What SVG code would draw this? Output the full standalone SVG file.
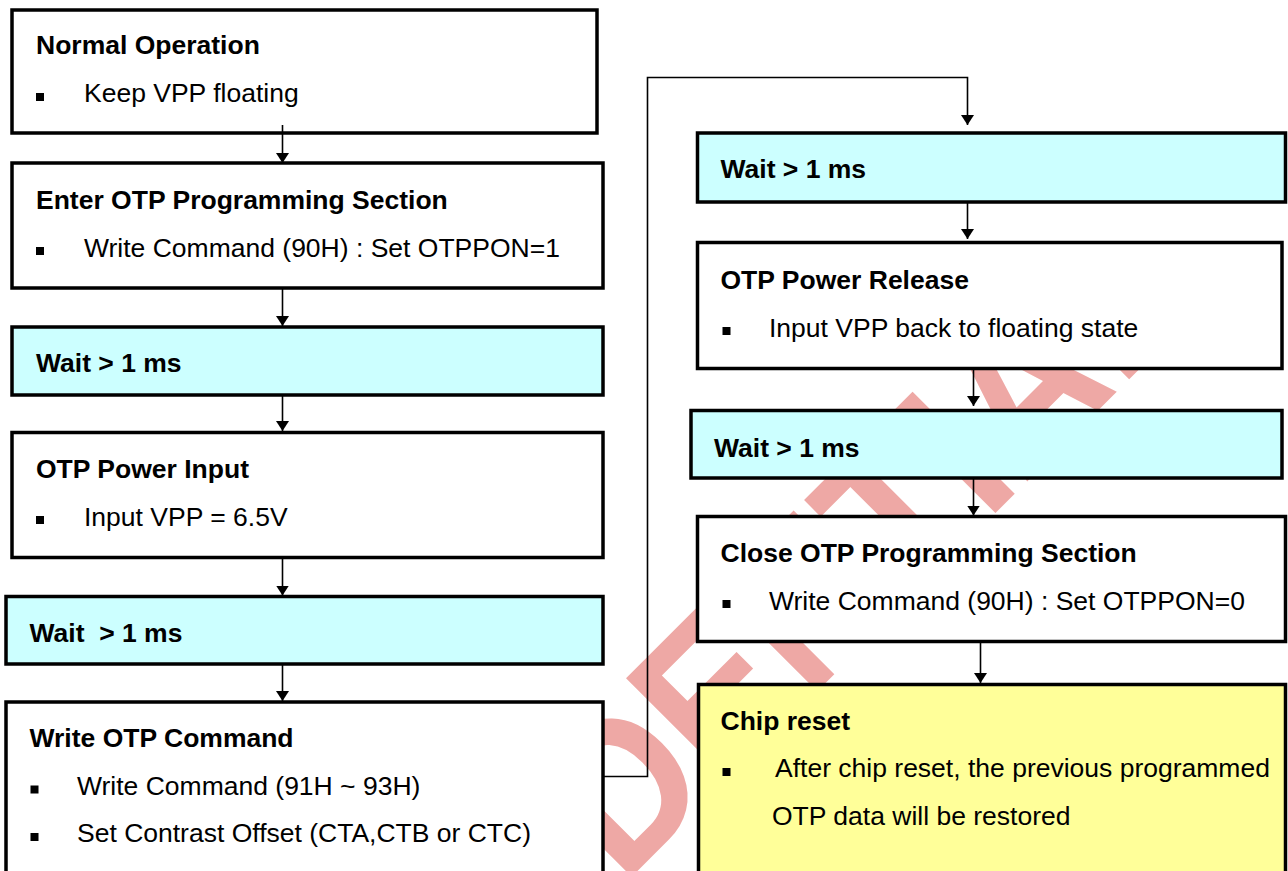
<svg xmlns="http://www.w3.org/2000/svg" width="1288" height="871" viewBox="0 0 1288 871">
<style>
.box{fill:#fff;stroke:#000;stroke-width:3.5}
.wait{fill:#ccffff;stroke:#000;stroke-width:3.5}
.note{fill:#ffff99;stroke:#000;stroke-width:3.5}
.t{font-family:"Liberation Sans",Arial,sans-serif;font-size:26.5px;font-weight:bold;fill:#000}
.b{font-family:"Liberation Sans",Arial,sans-serif;font-size:26.5px;fill:#000}
.con{fill:none;stroke:#000;stroke-width:1.6}
.wm{font-family:"Liberation Sans",Arial,sans-serif;font-size:210px;font-weight:bold;fill:#eea8a5}
</style>
<defs>
<marker id="ah" viewBox="0 0 10 13" refX="10" refY="6.5" markerWidth="10" markerHeight="13" markerUnits="userSpaceOnUse" orient="auto" preserveAspectRatio="none">
<path d="M0,0 L10,6.5 L0,13 z" fill="#000"/>
</marker>
</defs>
<rect width="1288" height="871" fill="#fff"/>
<g id="watermark">
<text class="wm" transform="translate(207,1301.5) rotate(-45) scale(0.9,1)">CONFIDENTIAL</text>
</g>
<g id="n1">
<rect class="box" x="12" y="10" width="585" height="123"/>
<text class="t" x="36" y="54">Normal Operation</text>
<rect x="36" y="93" width="8" height="8"/>
<text class="b" x="84" y="101.5">Keep VPP floating</text>
</g>
<g id="n2">
<rect class="box" x="12" y="163" width="591" height="125"/>
<text class="t" x="36" y="208.5">Enter OTP Programming Section</text>
<rect x="36" y="247" width="8" height="8"/>
<text class="b" x="84" y="257">Write Command (90H) : Set OTPPON=1</text>
</g>
<g id="n3">
<rect class="wait" x="12" y="327" width="591" height="68"/>
<text class="t" x="36" y="372">Wait &gt; 1 ms</text>
</g>
<g id="n4">
<rect class="box" x="12" y="432.5" width="591" height="125"/>
<text class="t" x="36" y="478">OTP Power Input</text>
<rect x="36" y="516" width="8" height="8"/>
<text class="b" x="84" y="526">Input VPP = 6.5V</text>
</g>
<g id="n5">
<rect class="wait" x="6" y="596.5" width="597" height="67.5"/>
<text class="t" x="29.5" y="641.5" xml:space="preserve">Wait  &gt; 1 ms</text>
</g>
<g id="n6">
<rect class="box" x="6" y="702" width="597" height="190"/>
<text class="t" x="29.5" y="747">Write OTP Command</text>
<rect x="30.5" y="785.5" width="8" height="8"/>
<text class="b" x="77" y="795">Write Command (91H ~ 93H)</text>
<rect x="30.5" y="833" width="8" height="8"/>
<text class="b" x="77" y="842">Set Contrast Offset (CTA,CTB or CTC)</text>
</g>
<g id="n7">
<rect class="wait" x="697.5" y="133" width="588" height="69"/>
<text class="t" x="720.5" y="178">Wait &gt; 1 ms</text>
</g>
<g id="n8">
<rect class="box" x="697.5" y="242.5" width="584.5" height="126"/>
<text class="t" x="720.5" y="288.5">OTP Power Release</text>
<rect x="722.5" y="327" width="8" height="8"/>
<text class="b" x="769" y="337">Input VPP back to floating state</text>
</g>
<g id="n9">
<rect class="wait" x="691" y="410.5" width="591" height="67.5"/>
<text class="t" x="714" y="457">Wait &gt; 1 ms</text>
</g>
<g id="n10">
<rect class="box" x="697.5" y="516.5" width="588" height="125"/>
<text class="t" x="720.5" y="562">Close OTP Programming Section</text>
<rect x="722.5" y="600" width="8" height="8"/>
<text class="b" x="769" y="610">Write Command (90H) : Set OTPPON=0</text>
</g>
<g id="n11">
<rect class="note" x="698.5" y="684.5" width="587" height="210"/>
<text class="t" x="720.5" y="729.5">Chip reset</text>
<rect x="722.5" y="768" width="8" height="8"/>
<text class="b" x="775" y="777">After chip reset, the previous programmed</text>
<text class="b" x="772" y="825">OTP data will be restored</text>
</g>
<g id="connectors">
<line class="con" x1="282.5" y1="125" x2="282.5" y2="163" marker-end="url(#ah)"/>
<line class="con" x1="282.5" y1="288" x2="282.5" y2="326" marker-end="url(#ah)"/>
<line class="con" x1="282.5" y1="395" x2="282.5" y2="431" marker-end="url(#ah)"/>
<line class="con" x1="282.5" y1="557.5" x2="282.5" y2="595.5" marker-end="url(#ah)"/>
<line class="con" x1="282.5" y1="664" x2="282.5" y2="701" marker-end="url(#ah)"/>
<path class="con" d="M603,776.5 H647.5 V77.5 H967.5 V125" marker-end="url(#ah)"/>
<line class="con" x1="967.5" y1="202" x2="967.5" y2="239" marker-end="url(#ah)"/>
<line class="con" x1="973.5" y1="368.5" x2="973.5" y2="406" marker-end="url(#ah)"/>
<line class="con" x1="973.5" y1="478" x2="973.5" y2="515.5" marker-end="url(#ah)"/>
<line class="con" x1="980.5" y1="641.5" x2="980.5" y2="683" marker-end="url(#ah)"/>
</g>
</svg>
